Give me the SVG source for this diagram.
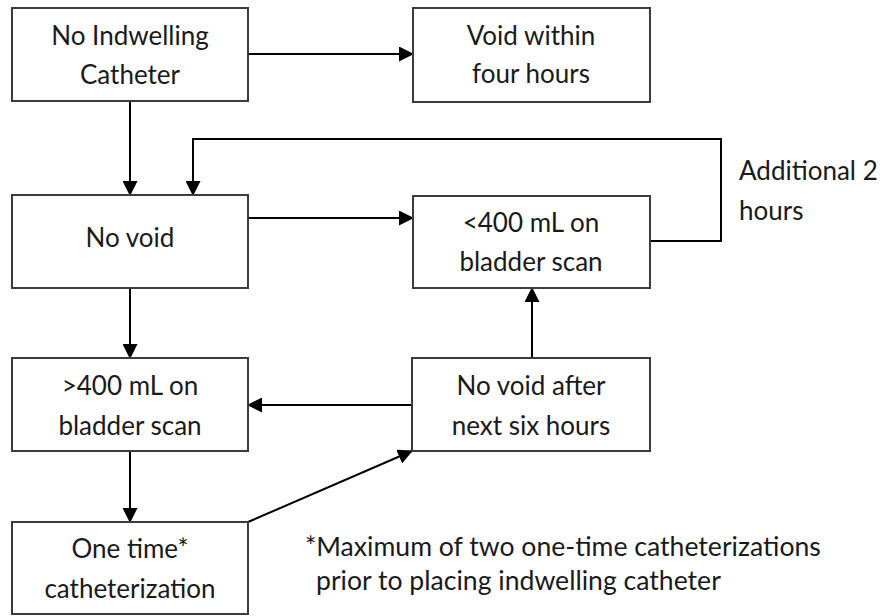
<svg xmlns="http://www.w3.org/2000/svg" width="885" height="616" viewBox="0 0 885 616">
<style>
.box{fill:#fff;stroke:#3c3c3c;stroke-width:2}
.t{font-family:Lato,"Open Sans","Liberation Sans",sans-serif;font-size:26px;fill:#1a1a1a;text-anchor:middle}
.l{font-family:Lato,"Open Sans","Liberation Sans",sans-serif;font-size:26px;fill:#1a1a1a}
.f{font-size:26.6px}
.c{fill:none;stroke:#000;stroke-width:2}
</style>
<defs>
<marker id="ah" markerUnits="userSpaceOnUse" markerWidth="15" markerHeight="15" refX="14" refY="7.5" orient="auto">
<path d="M0,0 L15,7.5 L0,15 Z" fill="#000"/>
</marker>
</defs>
<rect width="885" height="616" fill="#fff"/>
<g id="connectors">
<path class="c" d="M248,54 H413" marker-end="url(#ah)"/>
<path class="c" d="M130,101 V195" marker-end="url(#ah)"/>
<path class="c" d="M248,218 H413" marker-end="url(#ah)"/>
<path class="c" d="M650,241 H721 V139 H193 V195" marker-end="url(#ah)"/>
<path class="c" d="M130,288 V358" marker-end="url(#ah)"/>
<path class="c" d="M412,405 H248" marker-end="url(#ah)"/>
<path class="c" d="M532,358 V288" marker-end="url(#ah)"/>
<path class="c" d="M130,451 V522" marker-end="url(#ah)"/>
<path class="c" d="M248,522 L412,451" marker-end="url(#ah)"/>
</g>
<g id="n1"><rect class="box" x="12" y="8" width="236" height="93"/>
<text class="t" x="130" y="45">No Indwelling</text><text class="t" x="130" y="84">Catheter</text></g>
<g id="n2"><rect class="box" x="413" y="8" width="237" height="94"/>
<text class="t" x="531" y="45">Void within</text><text class="t" x="531" y="83">four hours</text></g>
<g id="n3"><rect class="box" x="12" y="195" width="236" height="93"/>
<text class="t" x="130" y="247">No void</text></g>
<g id="n4"><rect class="box" x="413" y="196" width="237" height="92"/>
<text class="t" x="531" y="232">&lt;400 mL on</text><text class="t" x="531" y="271">bladder scan</text></g>
<g id="n5"><rect class="box" x="12" y="358" width="236" height="93"/>
<text class="t" x="130" y="395">&gt;400 mL on</text><text class="t" x="130" y="435">bladder scan</text></g>
<g id="n6"><rect class="box" x="412" y="358" width="238" height="93"/>
<text class="t" x="531" y="395">No void after</text><text class="t" x="531" y="435">next six hours</text></g>
<g id="n7"><rect class="box" x="12" y="522" width="236" height="92"/>
<text class="t" x="130" y="558">One time*</text><text class="t" x="130" y="598">catheterization</text></g>
<g id="labels">
<text class="l" x="739" y="180">Additional 2</text>
<text class="l" x="739" y="220">hours</text>
<text class="l f" x="305" y="556">*Maximum of two one-time catheterizations</text>
<text class="l f" x="316" y="590">prior to placing indwelling catheter</text>
</g>
</svg>
